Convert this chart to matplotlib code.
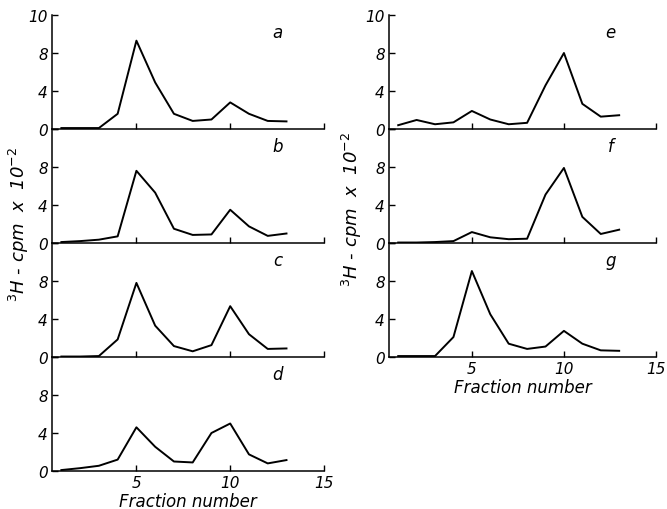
import numpy as np
import matplotlib
matplotlib.use("Agg")
import matplotlib.pyplot as plt

# fraction numbers and 3H counts (cpm x 10^-2)
fractions = list(range(1, 14))
a = [0.1, 0.1, 0.1, 1.6, 9.3, 4.9, 1.6, 0.85, 1.0, 2.8, 1.6, 0.85, 0.8]
b = [0.1, 0.2, 0.35, 0.7, 7.6, 5.3, 1.5, 0.85, 0.9, 3.5, 1.75, 0.75, 1.0]
c = [0.05, 0.05, 0.1, 1.85, 7.8, 3.3, 1.15, 0.6, 1.25, 5.35, 2.4, 0.85, 0.9]
d = [0.1, 0.3, 0.55, 1.2, 4.6, 2.55, 1.0, 0.9, 4.0, 5.0, 1.75, 0.8, 1.15]
e = [0.4, 0.95, 0.5, 0.7, 1.9, 1.0, 0.5, 0.65, 4.6, 8.0, 2.65, 1.3, 1.45]
f = [0.05, 0.05, 0.1, 0.2, 1.15, 0.6, 0.4, 0.45, 5.1, 7.9, 2.75, 0.95, 1.4]
g = [0.1, 0.1, 0.1, 2.1, 9.05, 4.5, 1.4, 0.85, 1.1, 2.75, 1.4, 0.7, 0.65]

left_panels = [("a", a), ("b", b), ("c", c), ("d", d)]
right_panels = [("e", e), ("f", f), ("g", g)]

xticks = [5, 10, 15]
# the original's top label "10" sits one tick step above 8
ytick_pos = [0, 4, 8, 12]
ytick_top = ["0", "4", "8", "10"]
ytick_rest = ["0", "4", "8", ""]

fig = plt.figure(figsize=(6.67, 5.1), dpi=100)

W, H = 667.0, 510.0
row_bottoms = [130, 244, 358, 472]
panel_h = 114
font = dict(fontsize=11, fontstyle="italic")


def make_panel(x0, x1, ybot, letter, vals, top, bottom):
    ax = fig.add_axes([x0 / W, 1 - ybot / H, (x1 - x0) / W, panel_h / H])
    ax.plot(fractions, vals, color="black", lw=1.4)
    ax.set_xlim(0.5, 15)
    ax.set_ylim(0, 12)
    for s in ["top", "right"]:
        ax.spines[s].set_visible(False)
    ax.spines["left"].set_linewidth(1.1)
    ax.spines["bottom"].set_linewidth(1.1)
    ax.set_xticks(xticks)
    ax.set_yticks(ytick_pos)
    ax.set_yticklabels(ytick_top if top else ytick_rest, **font)
    if bottom:
        ax.set_xticklabels([str(t) for t in xticks], **font)
        ax.set_xlabel("Fraction number", fontsize=12, fontstyle="italic",
                      labelpad=1)
    else:
        ax.set_xticklabels([])
    ax.tick_params(direction="in", length=4, width=1, pad=3)
    ax.patch.set_alpha(0)
    ax.text(0.83, 0.85, letter, transform=ax.transAxes, fontsize=12,
            fontstyle="italic", ha="center", va="center")
    return ax


for i, (lt, v) in enumerate(left_panels):
    make_panel(52, 324, row_bottoms[i], lt, v, i == 0, i == len(left_panels) - 1)
for i, (lt, v) in enumerate(right_panels):
    make_panel(389, 656, row_bottoms[i], lt, v, i == 0, i == len(right_panels) - 1)

ylab = r"$^{3}$H - cpm  x  10$^{-2}$"
fig.text(19 / W, 1 - 225 / H, ylab, rotation=90, ha="center", va="center",
         fontsize=13, fontstyle="italic")
fig.text(352 / W, 1 - 210 / H, ylab, rotation=90, ha="center", va="center",
         fontsize=13, fontstyle="italic")

fig.savefig("out.png", dpi=100)
